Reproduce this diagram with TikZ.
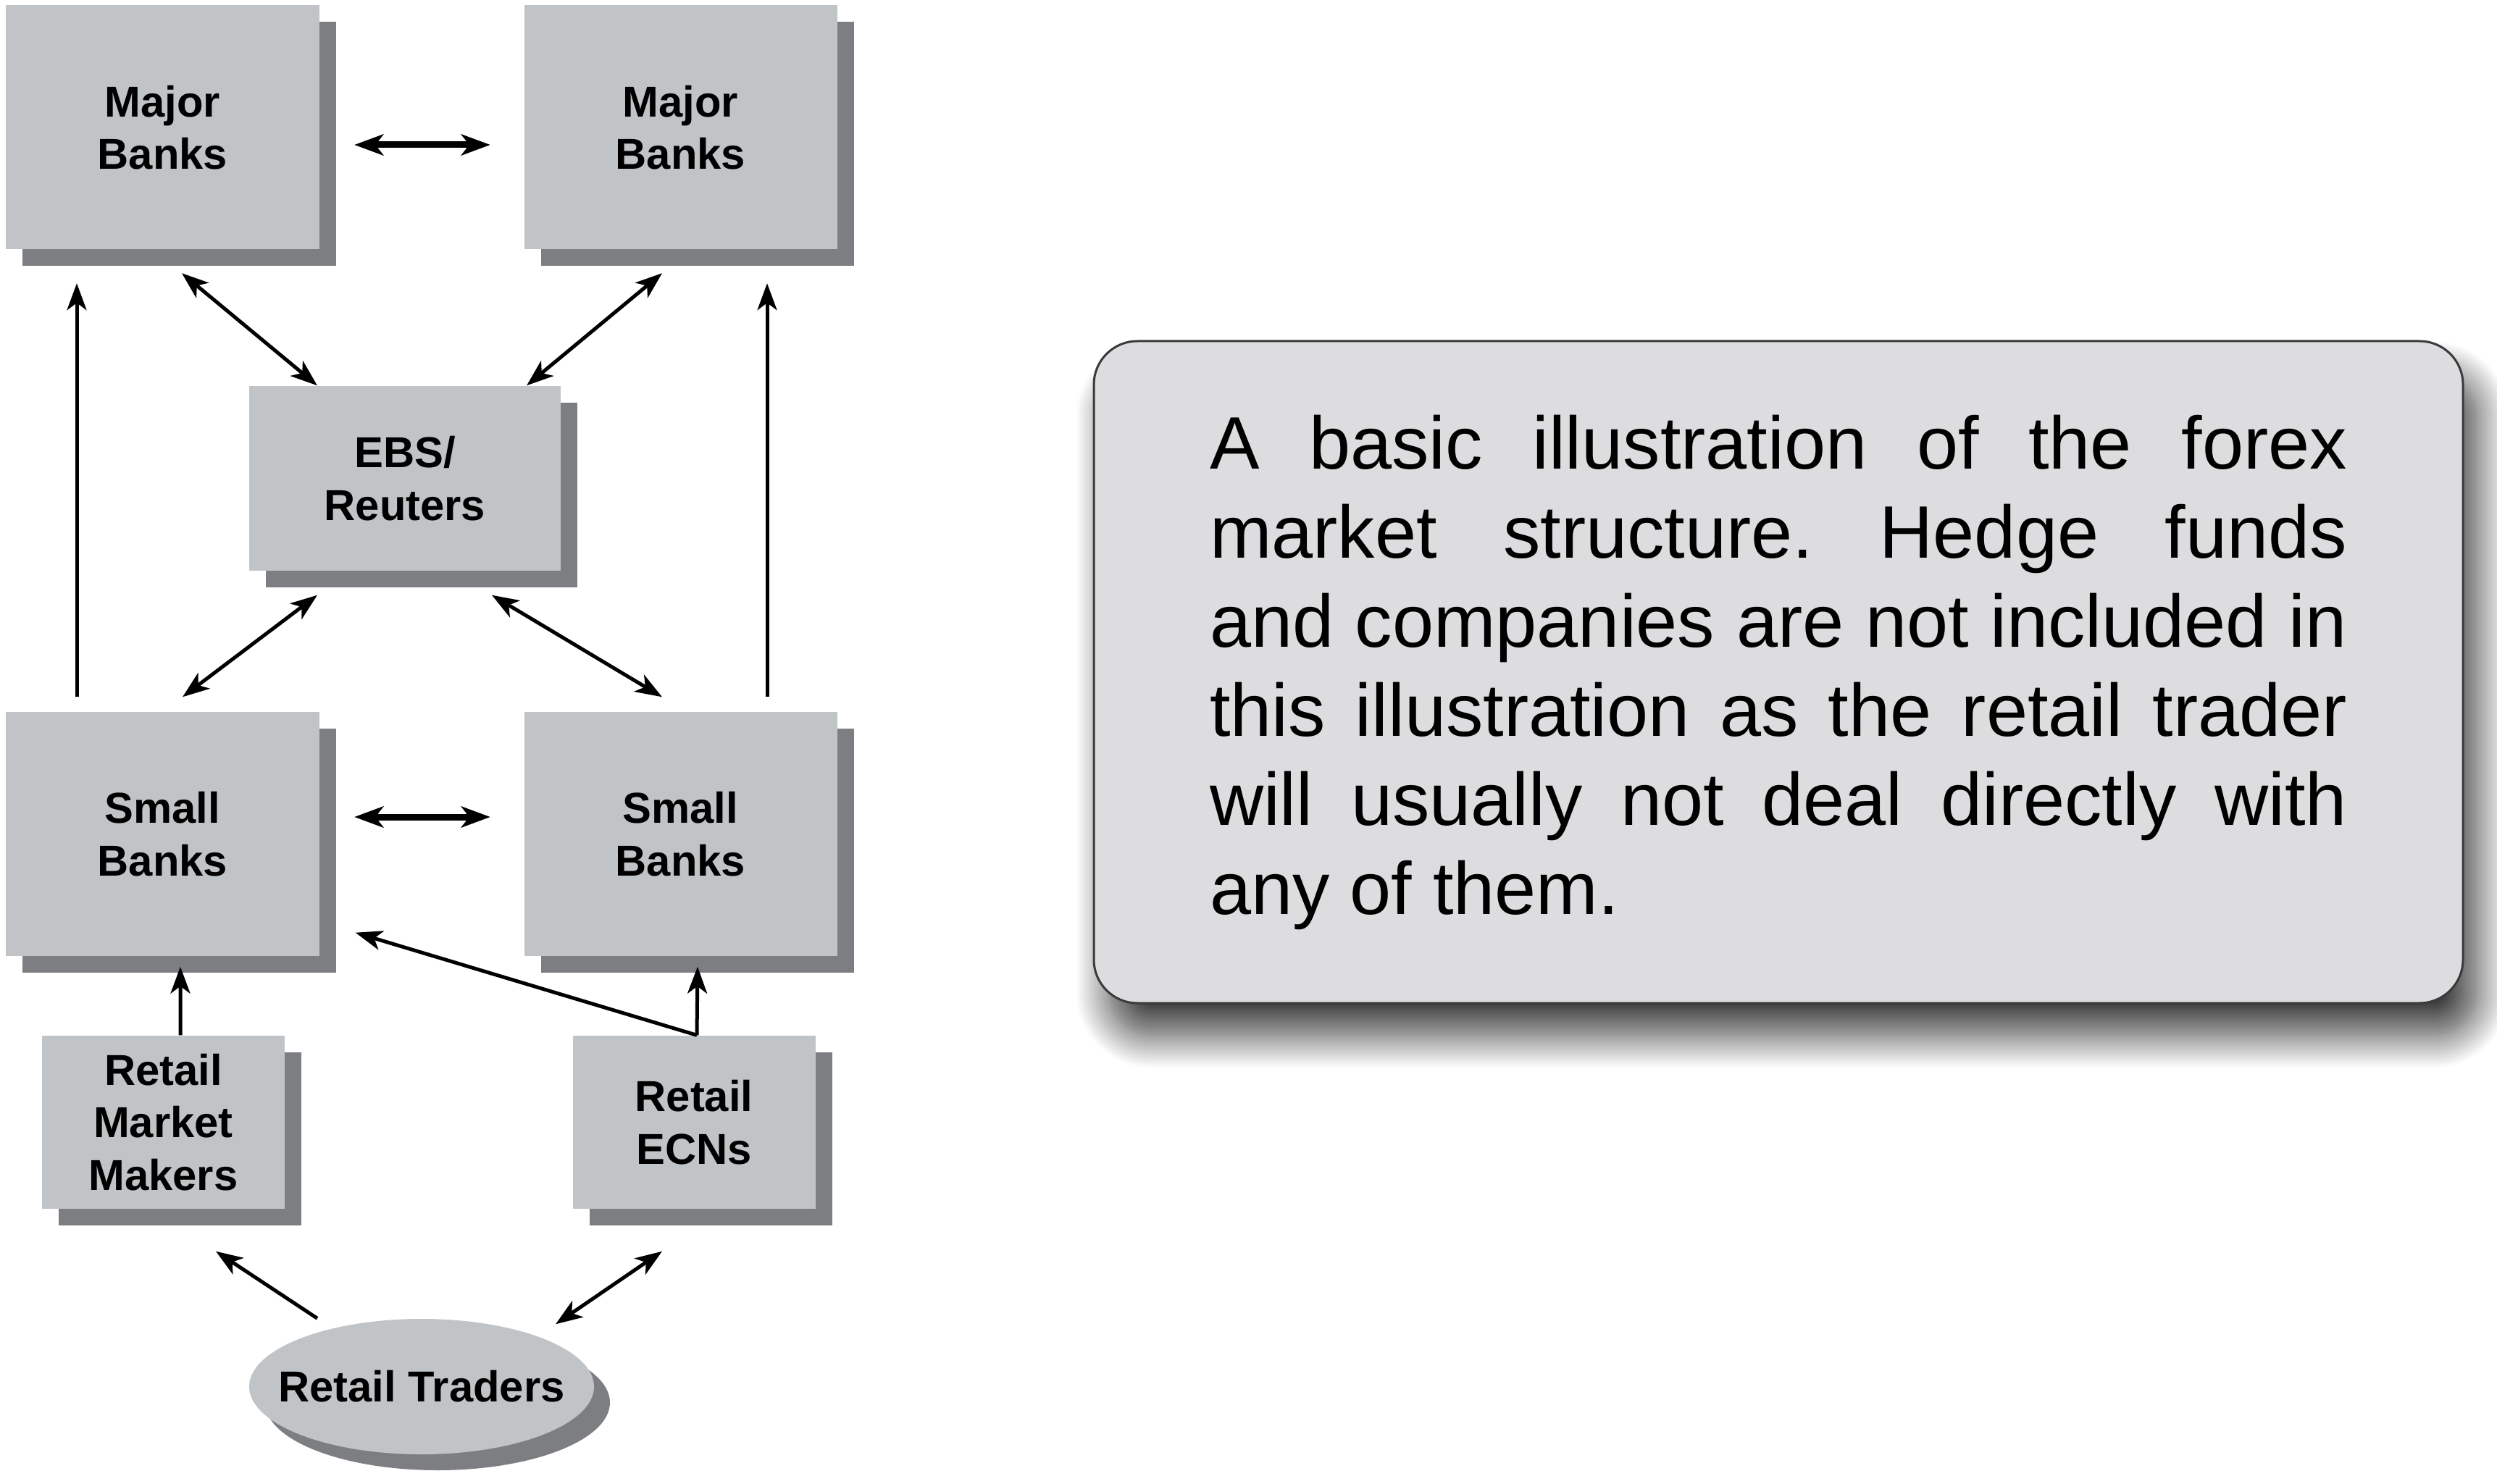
\documentclass[tikz,border=0pt]{standalone}
\usepackage{fontspec}
\setmainfont{Liberation Sans}
\usetikzlibrary{arrows.meta, shapes.geometric, shadows, shadows.blur}
\frenchspacing

\definecolor{boxgray}{RGB}{193,196,199}
\definecolor{shadowgray}{RGB}{125,126,130}
\definecolor{notegray}{RGB}{221,221,223}
\definecolor{noteedge}{RGB}{58,58,60}

\tikzset{
  bankbox/.style={rectangle, fill=boxgray, align=center, inner sep=0pt,
    font=\bfseries\fontsize{17}{20.6}\selectfont,
    drop shadow={shadow xshift=0.23cm, shadow yshift=-0.23cm, fill=shadowgray, opacity=1}},
  bigbox/.style={bankbox, minimum width=4.32cm, minimum height=3.37cm},
  retailbox/.style={bankbox, minimum width=3.35cm, minimum height=2.39cm},
  link/.style={line width=0.05cm, >={Stealth[length=3.7mm,width=2.7mm,inset=1mm]}},
  oneway/.style={link, ->},
  bothway/.style={link, <->},
  peer/.style={line width=0.09cm, >={Stealth[length=4mm,width=2.9mm,inset=1.1mm]}, <->,
    shorten <=4.8mm, shorten >=4.6mm},
  notebox/.style={rectangle, rounded corners=0.6cm, fill=notegray, draw=noteedge,
    line width=0.03cm, minimum width=18.9cm, minimum height=9.14cm,
    text width=15.7cm, align=justify, font=\fontsize{29.2}{35}\selectfont,
    blur shadow={shadow xshift=0.2cm, shadow yshift=-0.45cm,
      shadow blur radius=0.45cm, shadow blur steps=24, shadow opacity=75}}
}

\begin{document}
\begin{tikzpicture}
    \useasboundingbox (0,0) rectangle (34.47,20.48);

    % banks
    \node[bigbox] (mbl) at (2.245,18.72) {Major\\Banks};
    \node[bigbox] (mbr) at (9.395,18.72) {Major\\Banks};
    \node[bankbox, minimum width=4.30cm, minimum height=2.55cm] (ebs) at (5.59,13.875) {EBS/\\Reuters};
    \node[bigbox] (sbl) at (2.245,8.965) {Small\\Banks};
    \node[bigbox] (sbr) at (9.395,8.965) {Small\\Banks};

    % retail side
    \node[retailbox] (rmm) at (2.255,4.985) {Retail\\Market\\Makers};
    \node[retailbox] (ecn) at (9.58,4.985) {Retail\\ECNs};
    \node[ellipse, fill=boxgray, inner sep=0pt, minimum width=4.76cm, minimum height=1.87cm,
        font=\bfseries\fontsize{17}{20.6}\selectfont,
        drop shadow={shadow xshift=0.22cm, shadow yshift=-0.22cm, fill=shadowgray, opacity=1}]
        (rt) at (5.82,1.335) {\makebox[0pt]{Retail Traders}};

    % peer links
    \draw[peer] ([yshift=-2.4mm]mbl.east) -- ([yshift=-2.4mm]mbr.west);
    \draw[peer] ([yshift=2.35mm]sbl.east) -- ([yshift=2.35mm]sbr.west);

    % links through EBS/Reuters
    \draw[bothway] ([shift={(0.265,-0.32)}]mbl.south) -- ([xshift=-1.21cm]ebs.north);
    \draw[bothway] ([shift={(-0.255,-0.32)}]mbr.south) -- ([xshift=1.68cm]ebs.north);
    \draw[bothway] ([shift={(-1.21,-0.33)}]ebs.south) -- ([shift={(0.275,0.20)}]sbl.north);
    \draw[bothway] ([shift={(1.20,-0.33)}]ebs.south) -- ([shift={(-0.255,0.20)}]sbr.north);

    % small banks up to major banks
    \draw[oneway] ([shift={(-1.185,0.20)}]sbl.north) -- ([shift={(-1.185,-0.46)}]mbl.south);
    \draw[oneway] ([shift={(1.195,0.20)}]sbr.north) -- ([shift={(1.195,-0.46)}]mbr.south);

    % retail to small banks
    \draw[oneway] ([xshift=2.35mm]rmm.north) -- ([shift={(0.245,-0.14)}]sbl.south);
    \coordinate (ecntop) at ([xshift=0.4mm]ecn.north);
    \draw[oneway] (ecntop) -- ([shift={(0.235,-0.14)}]sbr.south);
    \draw[oneway] (ecntop) -- ([shift={(0.495,0.33)}]sbl.south east);

    % retail traders
    \draw[oneway] ([xshift=-1.44cm]rt.north) -- ([shift={(0.725,-0.58)}]rmm.south);
    \draw[bothway] ([shift={(1.85,-0.08)}]rt.north) -- ([shift={(-0.44,-0.58)}]ecn.south);

    % note
    \node[notebox] (note) at (24.55,11.20) {A basic illustration of the forex\linebreak
        market structure. Hedge funds\linebreak
        and companies are not included in\linebreak
        this illustration as the retail trader\linebreak
        will usually not deal directly with\linebreak
        any of them.};
\end{tikzpicture}
\end{document}
